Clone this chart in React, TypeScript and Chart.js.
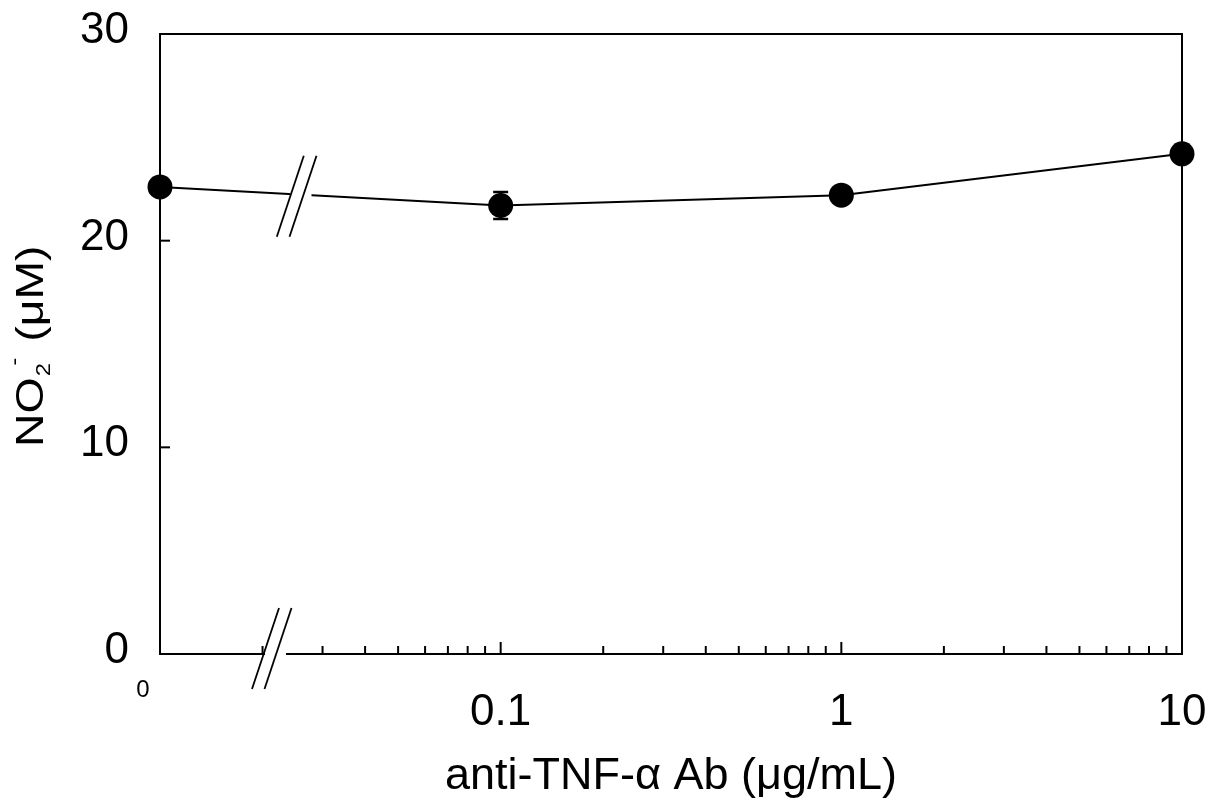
import React, { useEffect, useRef } from "react";
import { Chart, registerables } from "chart.js";

Chart.register(...registerables);

// ---- data ----
const doses = [0, 0.1, 1, 10]; // µg/mL ; 0 is plotted at the left end of the log axis
const no2Mean = [22.6, 21.7, 22.2, 24.2]; // µM
const no2Err = [0.3, 0.65, 0.3, 0.3]; // µM (SD)
const yTickValues = [0, 10, 20, 30];
const xMajorTicks = [0.1, 1, 10];
const xMajorLabels = ["0.1", "1", "10"];
const xMinorTicks = [
  0.02, 0.03, 0.04, 0.05, 0.06, 0.07, 0.08, 0.09,
  0.2, 0.3, 0.4, 0.5, 0.6, 0.7, 0.8, 0.9,
  2, 3, 4, 5, 6, 7, 8, 9,
];
const zeroLabel = "0";
const xTitle = "anti-TNF-α Ab (μg/mL)";
const X_MIN = 0.01; // position used for dose 0
const X_MAX = 10;

const FONT = "'Liberation Sans', Arial, Helvetica, sans-serif";

const near = (a: number, b: number) => Math.abs(a - b) < 1e-9 * Math.max(1, Math.abs(b));

const slash = (ctx: CanvasRenderingContext2D, cx: number, cy: number) => {
  ctx.beginPath();
  ctx.moveTo(cx - 13.5, cy + 40.5);
  ctx.lineTo(cx + 13.5, cy - 40.5);
  ctx.stroke();
};

const framePlugin = {
  id: "frame",
  beforeDatasetsDraw(chart: any) {
    const { ctx, chartArea, scales } = chart;
    const { left, right, top, bottom } = chartArea;
    const x = scales.x;
    const y = scales.y;
    ctx.save();
    ctx.strokeStyle = "#000";
    ctx.lineWidth = 2;
    ctx.lineCap = "butt";
    // left, top, right borders
    ctx.beginPath();
    ctx.moveTo(left, bottom + 1);
    ctx.lineTo(left, top);
    ctx.lineTo(right, top);
    ctx.lineTo(right, bottom + 1);
    ctx.stroke();
    // bottom axis with break
    const x0 = x.getPixelForValue(X_MIN);
    ctx.beginPath();
    ctx.moveTo(left - 1, bottom);
    ctx.lineTo(x0 + 105, bottom);
    ctx.moveTo(x0 + 126, bottom);
    ctx.lineTo(right + 1, bottom);
    ctx.stroke();
    // y ticks (inward)
    for (const v of yTickValues) {
      const py = y.getPixelForValue(v);
      ctx.beginPath();
      ctx.moveTo(left, py);
      ctx.lineTo(left + 10, py);
      ctx.stroke();
    }
    // x ticks (inward)
    for (const v of xMinorTicks) {
      const px = x.getPixelForValue(v);
      ctx.beginPath();
      ctx.moveTo(px, bottom);
      ctx.lineTo(px, bottom - 8);
      ctx.stroke();
    }
    for (const v of xMajorTicks) {
      const px = x.getPixelForValue(v);
      ctx.beginPath();
      ctx.moveTo(px, bottom);
      ctx.lineTo(px, bottom - 12);
      ctx.stroke();
    }
    // axis break slashes
    ctx.lineWidth = 1.8;
    slash(ctx, x0 + 105.5, bottom - 5.5);
    slash(ctx, x0 + 118, bottom - 5.5);
    ctx.restore();
  },
  afterDatasetsDraw(chart: any) {
    const { ctx, scales } = chart;
    const x = scales.x;
    const y = scales.y;
    ctx.save();
    // break in the data line between dose 0 and 0.1
    const x0 = x.getPixelForValue(X_MIN);
    const p0 = y.getPixelForValue(no2Mean[0]);
    const p1 = y.getPixelForValue(no2Mean[1]);
    ctx.fillStyle = "#fff";
    ctx.fillRect(x0 + 130.5, Math.min(p0, p1) - 5, 21, Math.abs(p1 - p0) + 10);
    ctx.strokeStyle = "#000";
    ctx.lineWidth = 1.8;
    const cy = (p0 + p1) / 2;
    slash(ctx, x0 + 130.3, cy);
    slash(ctx, x0 + 143, cy);
    // error bars
    ctx.lineWidth = 2.5;
    doses.forEach((d, i) => {
      const px = x.getPixelForValue(d === 0 ? X_MIN : d);
      const hi = y.getPixelForValue(no2Mean[i] + no2Err[i]);
      const lo = y.getPixelForValue(no2Mean[i] - no2Err[i]);
      ctx.beginPath();
      ctx.moveTo(px, hi);
      ctx.lineTo(px, lo);
      ctx.moveTo(px - 7.5, hi);
      ctx.lineTo(px + 7.5, hi);
      ctx.moveTo(px - 7.5, lo);
      ctx.lineTo(px + 7.5, lo);
      ctx.stroke();
    });
    ctx.restore();
  },
  afterDraw(chart: any) {
    const { ctx, chartArea, scales } = chart;
    const x = scales.x;
    ctx.save();
    ctx.fillStyle = "#000";
    // label for dose 0
    ctx.font = `24px ${FONT}`;
    ctx.textAlign = "center";
    ctx.textBaseline = "middle";
    ctx.fillText(zeroLabel, x.getPixelForValue(X_MIN) - 17, chartArea.bottom + 36);
    // y-axis title: NO2- (µM) with sub/superscript
    ctx.translate(43, 447);
    ctx.rotate(-Math.PI / 2);
    ctx.scale(1.19, 1);
    ctx.textAlign = "left";
    ctx.textBaseline = "alphabetic";
    let cx = 0;
    ctx.font = `39px ${FONT}`;
    ctx.fillText("NO", cx, 0);
    cx += ctx.measureText("NO").width + 1;
    ctx.font = `20px ${FONT}`;
    ctx.fillText("2", cx, 7);
    ctx.fillText("-", cx + 9, -22);
    cx += ctx.measureText("2").width + 7;
    ctx.font = `39px ${FONT}`;
    ctx.fillText(" (μM)", cx, 0);
    ctx.restore();
  },
};

export default function App() {
  const ref = useRef<HTMLCanvasElement>(null);
  useEffect(() => {
    const canvas = ref.current;
    if (!canvas) return;
    const chart = new Chart(canvas, {
      type: "line",
      data: {
        datasets: [
          {
            label: "NO2-",
            data: doses.map((d, i) => ({ x: d === 0 ? X_MIN : d, y: no2Mean[i] })),
            borderColor: "#000",
            backgroundColor: "#000",
            borderWidth: 2,
            pointRadius: 12.5,
            pointHoverRadius: 12.5,
            pointBackgroundColor: "#000",
            pointBorderWidth: 0,
            tension: 0,
            clip: false as any,
          },
        ],
      },
      options: {
        responsive: false,
        animation: false,
        events: [],
        layout: { padding: { left: 0, right: 32, top: 34, bottom: 0 } },
        plugins: {
          legend: { display: false },
          tooltip: { enabled: false },
        },
        scales: {
          x: {
            type: "logarithmic",
            min: X_MIN,
            max: X_MAX,
            afterBuildTicks: (s: any) => {
              s.ticks = xMajorTicks.map((v) => ({ value: v }));
            },
            afterFit: (s: any) => {
              s.height = 156;
              s.paddingLeft = 0;
              s.paddingRight = 0;
            },
            grid: { display: false },
            border: { display: false },
            ticks: {
              autoSkip: false,
              maxRotation: 0,
              minRotation: 0,
              padding: 24,
              color: "#000",
              font: { size: 44, family: FONT },
              callback: (v: any) => {
                const i = xMajorTicks.findIndex((t) => near(t, Number(v)));
                return i >= 0 ? xMajorLabels[i] : "";
              },
            },
            title: {
              display: true,
              text: xTitle,
              color: "#000",
              font: { size: 45, family: FONT },
              padding: { top: 0, bottom: 6 },
            },
          },
          y: {
            type: "linear",
            min: 0,
            max: 30,
            afterBuildTicks: (s: any) => {
              s.ticks = yTickValues.map((v) => ({ value: v }));
            },
            afterFit: (s: any) => {
              s.width = 160;
              s.paddingTop = 0;
              s.paddingBottom = 0;
            },
            grid: { display: false },
            border: { display: false },
            ticks: {
              padding: 23,
              labelOffset: -3,
              color: "#000",
              font: { size: 44, family: FONT },
              callback: (v: any) => String(v),
            },
          },
        },
      },
      plugins: [framePlugin],
    });
    return () => chart.destroy();
  }, []);
  return (
    <div style={{ position: "absolute", left: 0, top: 0, width: 1214, height: 810, background: "#fff" }}>
      <canvas ref={ref} width={1214} height={810} style={{ display: "block" }} />
    </div>
  );
}
